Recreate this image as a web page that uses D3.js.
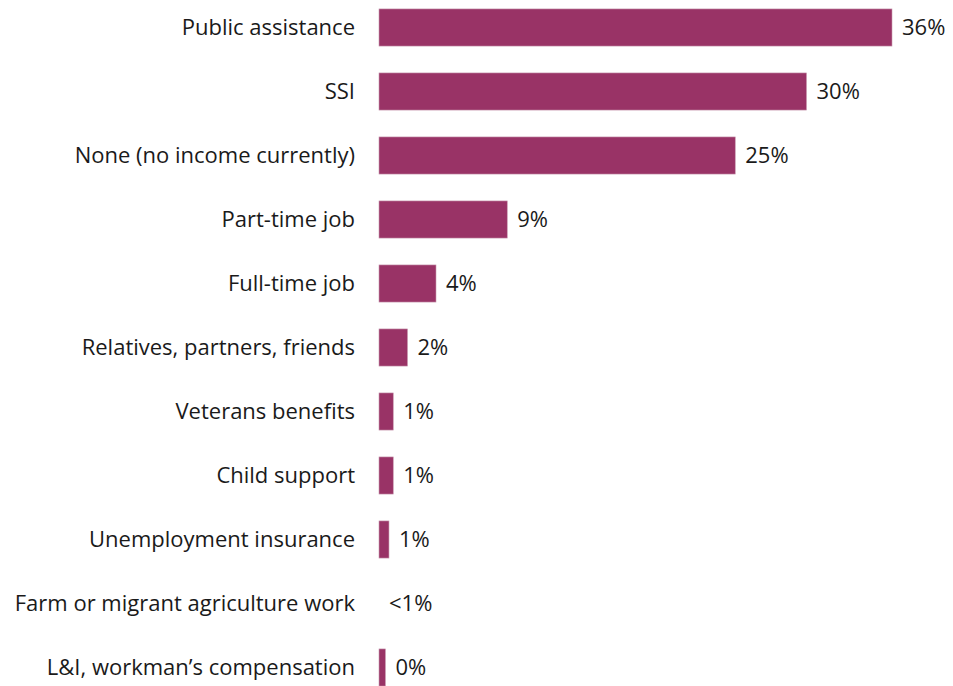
<!DOCTYPE html>
<html><head><meta charset="utf-8">
<script src="https://cdn.jsdelivr.net/npm/d3@7"></script>
<style>html,body{margin:0;padding:0;background:#fff;overflow:hidden}</style>
</head><body>
<svg id="c" width="953" height="686"></svg>
<script>
const categories = ["Public assistance","SSI","None (no income currently)","Part-time job","Full-time job","Relatives, partners, friends","Veterans benefits","Child support","Unemployment insurance","Farm or migrant agriculture work","L&I, workman\u2019s compensation"];
const values = [36, 30, 25, 9, 4, 2, 1, 1, 0.7, 0, 0.45];
const valueLabels = ["36%","30%","25%","9%","4%","2%","1%","1%","1%","<1%","0%"];

const svg = d3.select("#c");
const x = d3.scaleLinear().domain([0, 36]).range([379, 892]);
const y = d3.scaleBand().domain(categories).range([-4.5, 699.5]).paddingInner(0.42).paddingOuter(0.21);
const font = "'Open Sans', sans-serif";

svg.selectAll("rect.bar").data(categories).join("rect")
  .attr("class","bar")
  .attr("x", x(0))
  .attr("y", d => y(d))
  .attr("width", (d,i) => x(values[i]) - x(0))
  .attr("height", y.bandwidth())
  .attr("fill", "#993366")
  .attr("stroke", (d,i) => values[i] > 0 ? "#c89ab0" : "none")
  .attr("stroke-width", 0.6);

svg.selectAll("text.cat").data(categories).join("text")
  .attr("class","cat")
  .attr("x", 355)
  .attr("y", d => y(d) + y.bandwidth()/2)
  .attr("dy", "0.35em")
  .attr("text-anchor","end")
  .attr("font-family", font)
  .attr("font-size", 22)
  .attr("fill", "#1a1a1a")
  .text(d => d);

svg.selectAll("text.val").data(categories).join("text")
  .attr("class","val")
  .attr("x", (d,i) => x(values[i]) + 10)
  .attr("y", d => y(d) + y.bandwidth()/2)
  .attr("dy", "0.35em")
  .attr("font-family", font)
  .attr("font-size", 22)
  .attr("fill", "#1a1a1a")
  .text((d,i) => valueLabels[i]);
</script>
</body></html>
